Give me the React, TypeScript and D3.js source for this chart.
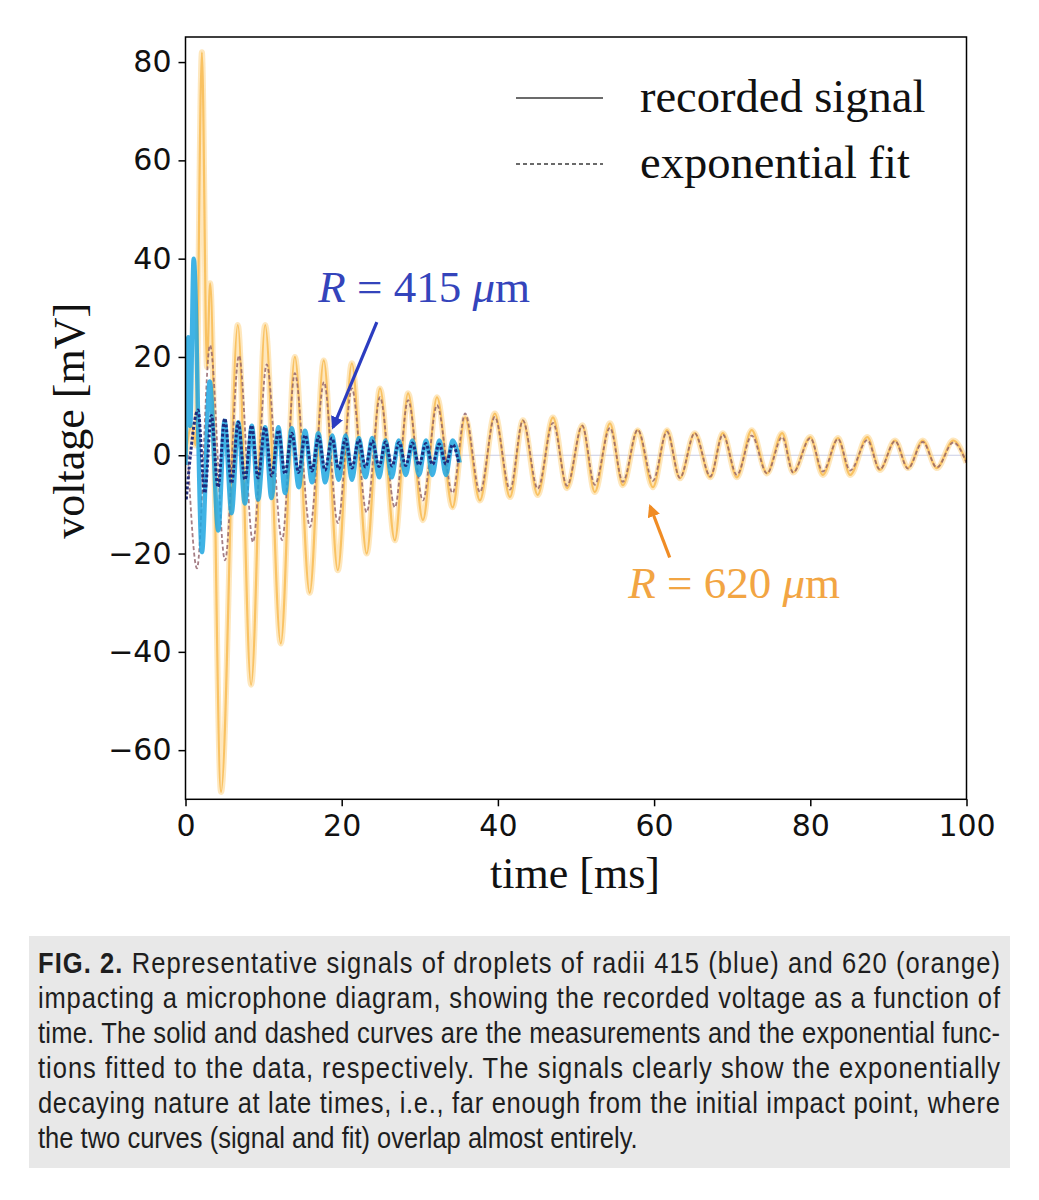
import { useEffect, useRef } from 'react';
import * as d3 from 'd3';

// extrema: [time ms, voltage mV]
const orangeSignal: [number, number][] = [
    [0, 0], [0.8, 6], [1.3, 2], [2.1, 82], [2.75, 18], [3.15, 35], [4.55, -68.5],
    [6.7, 26.5], [8.4, -46.7], [10.2, 26.5], [12.2, -38.3], [14.0, 20], [15.9, -28],
    [17.7, 19.3], [19.5, -23.4], [21.3, 18.7], [23.2, -20], [24.9, 13.6], [26.8, -17.3],
    [28.5, 12.6], [30.4, -13.2], [32.2, 11.8], [34.2, -10.6], [35.8, 7.7], [37.7, -9.2],
    [39.6, 8.5], [41.55, -8.5], [43.2, 7.1], [45.1, -8.1], [47.05, 7.7], [48.85, -6.7],
    [50.8, 6.1], [52.4, -7.5], [54.35, 6.5], [56.0, -6.1], [57.9, 5.1], [59.85, -6.5],
    [61.65, 5.1], [63.3, -4.7], [65.2, 4.5], [67.2, -4.5], [68.8, 4.5], [70.6, -4.5],
    [72.5, 5.1], [74.45, -3.7], [76.4, 4.5], [77.8, -3.5], [80.0, 3.7], [81.6, -4],
    [83.55, 3.5], [85.1, -4], [87.3, 3.7], [88.9, -3], [90.85, 3], [92.5, -2.6],
    [94.4, 3], [96.2, -2.6], [98.3, 3], [100, -1.5],
];

const orangeFit: [number, number][] = [
    [0.3, 0], [1.47, -23], [3.14, 22.4], [5.06, -21.4], [6.85, 20.3], [8.64, -17.7],
    [10.4, 18.5], [12.36, -17.3], [14.0, 16.7], [15.94, -14.6], [17.73, 14.9], [19.5, -13.8],
    [21.3, 13.6], [23.2, -11.6], [24.9, 11.8], [26.8, -10.6], [28.5, 11.2], [30.4, -9.2],
    [32.2, 10.2], [34.2, -7.7], [35.8, 8.5], [37.7, -7.5], [39.6, 7.8], [41.55, -7],
    [43.2, 7.1], [45.1, -6.8], [47.05, 6.6], [48.85, -6.2], [50.8, 6], [52.4, -6],
    [54.35, 5.6], [56.0, -5.4], [57.9, 5.2], [59.85, -5.2], [61.65, 4.8], [63.3, -4.6],
    [65.2, 4.5], [67.2, -4.3], [68.8, 4.2], [70.6, -4], [72.5, 4], [74.45, -3.7],
    [76.4, 3.7], [77.8, -3.5], [80.0, 3.5], [81.6, -3.3], [83.55, 3.3], [85.1, -3.1],
    [87.3, 3.1], [88.9, -2.9], [90.85, 2.9], [92.5, -2.7], [94.4, 2.7], [96.2, -2.5],
    [98.3, 2.6], [100, -1.5],
];

const blueSignal: [number, number][] = [
    [0, -2], [0.35, 24], [0.6, 6], [1.05, 40], [2.1, -19.7], [3.1, 15], [4.2, -15.3],
    [5.0, 7], [5.9, -11.8], [6.75, 6.7], [7.6, -9.8], [8.5, 6], [9.3, -9], [10.2, 5.7],
    [11.0, -8.7], [11.9, 5.7], [12.75, -7.7], [13.6, 5.5], [14.5, -6.5], [15.3, 5],
    [16.2, -5.5], [17.0, 4.5], [17.9, -5.5], [18.8, 4], [19.6, -5], [20.5, 4], [21.3, -5],
    [22.2, 3.5], [23.05, -4.5], [23.9, 3.5], [24.8, -4.5], [25.6, 3], [26.4, -4.5],
    [27.3, 3], [28.2, -4], [29.05, 3], [29.9, -4], [30.8, 3], [31.6, -4], [32.5, 3],
    [33.35, -4], [34.2, 3], [35.1, -1.5],
];

const blueFit: [number, number][] = [
    [0.1, -9], [0.5, -2], [1.6, 9.2], [2.46, -7.7], [3.32, 8.1], [4.16, -6.5], [5.03, 7.5],
    [5.89, -5.7], [6.75, 6.7], [7.62, -5], [8.46, 6.1], [9.28, -4.6], [10.18, 5.7],
    [11.04, -4.2], [11.9, 5.1], [12.74, -3.8], [13.61, 4.5], [14.47, -3.5], [15.33, 4.1],
    [16.2, -3.2], [17.04, 3.8], [17.86, -3], [18.76, 3.5], [19.62, -2.8], [20.47, 3.3],
    [21.32, -2.6], [22.19, 3.1], [23.05, -2.4], [23.9, 2.9], [24.78, -2.3], [25.62, 2.7],
    [26.44, -2.2], [27.34, 2.6], [28.2, -2.1], [29.05, 2.5], [29.9, -2], [30.77, 2.4],
    [31.63, -1.9], [32.48, 2.3], [33.35, -1.8], [34.2, 2.2], [35.0, -1.7],
];

const xTicks = [0, 20, 40, 60, 80, 100];
const yTicks = [-60, -40, -20, 0, 20, 40, 60, 80];

const legendLabels = ['recorded signal', 'exponential fit'];

const captionLines = [
    'Representative signals of droplets of radii 415 (blue) and 620 (orange)',
    'impacting a microphone diagram, showing the recorded voltage as a function of',
    'time. The solid and dashed curves are the measurements and the exponential func-',
    'tions fitted to the data, respectively. The signals clearly show the exponentially',
    'decaying nature at late times, i.e., far enough from the initial impact point, where',
    'the two curves (signal and fit) overlap almost entirely.',
];

export default function App() {
    const svgRef = useRef<SVGSVGElement>(null);

    useEffect(() => {
        if (!svgRef.current) return;
        document.body.style.margin = '0';

        const svg = d3.select(svgRef.current);
        svg.selectAll('*').remove();

        const left = 185.5, right = 966.5, top = 37, bottom = 799.3;
        const x = d3.scaleLinear().domain([0, 100]).range([left, right]);
        const y = d3.scaleLinear().domain([-70, 85.1]).range([bottom, top]);

        const defs = svg.append('defs');
        defs.append('clipPath').attr('id', 'plot-clip')
            .append('rect')
            .attr('x', left).attr('y', top)
            .attr('width', right - left).attr('height', bottom - top);

        const arrowHead = (id: string, color: string) => {
            defs.append('marker')
                .attr('id', id)
                .attr('viewBox', '0 0 10 10')
                .attr('refX', 8).attr('refY', 5)
                .attr('markerWidth', 4).attr('markerHeight', 4)
                .attr('orient', 'auto')
                .append('path')
                .attr('d', 'M0,0 L10,5 L0,10 z')
                .attr('fill', color);
        };
        arrowHead('arrow-blue', '#2b3cc0');
        arrowHead('arrow-orange', '#f08c24');

        const line = d3.line<[number, number]>()
            .x((d) => x(d[0]))
            .y((d) => y(d[1]))
            .curve(d3.curveMonotoneX);

        const plot = svg.append('g').attr('clip-path', 'url(#plot-clip)');

        // faint zero line
        plot.append('line')
            .attr('x1', x(0)).attr('x2', x(100))
            .attr('y1', y(0)).attr('y2', y(0))
            .attr('stroke', '#c9cde4')
            .attr('stroke-width', 1.2);

        // orange recorded signal: fuzzy band + core
        plot.append('path')
            .datum(orangeSignal)
            .attr('d', line)
            .attr('fill', 'none')
            .attr('stroke', '#fcc96c')
            .attr('stroke-opacity', 0.45)
            .attr('stroke-width', 6)
            .attr('stroke-linejoin', 'round');
        plot.append('path')
            .datum(orangeSignal)
            .attr('d', line)
            .attr('fill', 'none')
            .attr('stroke', '#f8bb52')
            .attr('stroke-opacity', 0.85)
            .attr('stroke-width', 2.2)
            .attr('stroke-linejoin', 'round');

        // orange fit
        plot.append('path')
            .datum(orangeFit)
            .attr('d', line)
            .attr('fill', 'none')
            .attr('stroke', '#8e5e66')
            .attr('stroke-opacity', 0.8)
            .attr('stroke-width', 1.8)
            .attr('stroke-dasharray', '4,2.5');

        // blue recorded signal
        plot.append('path')
            .datum(blueSignal)
            .attr('d', line)
            .attr('fill', 'none')
            .attr('stroke', '#1fa6e0')
            .attr('stroke-opacity', 0.85)
            .attr('stroke-width', 4.5)
            .attr('stroke-linejoin', 'round');

        // blue fit
        plot.append('path')
            .datum(blueFit)
            .attr('d', line)
            .attr('fill', 'none')
            .attr('stroke', '#1a2478')
            .attr('stroke-opacity', 0.95)
            .attr('stroke-width', 3)
            .attr('stroke-dasharray', '3,2');

        // frame
        svg.append('rect')
            .attr('x', left).attr('y', top)
            .attr('width', right - left).attr('height', bottom - top)
            .attr('fill', 'none')
            .attr('stroke', '#000')
            .attr('stroke-width', 1.5);

        // axes
        const yAxis = svg.append('g')
            .attr('transform', `translate(${left},0)`)
            .call(d3.axisLeft(y).tickValues(yTicks).tickSize(7).tickPadding(7));
        const xAxis = svg.append('g')
            .attr('transform', `translate(0,${bottom})`)
            .call(d3.axisBottom(x).tickValues(xTicks).tickSize(7).tickPadding(8));
        [xAxis, yAxis].forEach((ax) => {
            ax.attr('font-family', '"DejaVu Sans", sans-serif').attr('font-size', 30);
            ax.select('.domain').remove();
            ax.selectAll('line').attr('stroke', '#000').attr('stroke-width', 1.5);
            ax.selectAll('text').attr('fill', '#111');
        });

        // axis labels
        svg.append('text')
            .attr('x', (left + right) / 2 - 1)
            .attr('y', 888)
            .attr('text-anchor', 'middle')
            .attr('font-family', '"Liberation Serif", serif')
            .attr('font-size', 44)
            .attr('fill', '#111')
            .text('time [ms]');
        svg.append('text')
            .attr('transform', `translate(84,${y(7)}) rotate(-90)`)
            .attr('text-anchor', 'middle')
            .attr('font-family', '"Liberation Serif", serif')
            .attr('font-size', 44)
            .attr('fill', '#111')
            .text('voltage [mV]');

        // legend
        const legend = svg.append('g');
        legendLabels.forEach((label, i) => {
            const ly = 98 + i * 66;
            legend.append('line')
                .attr('x1', 516).attr('x2', 603)
                .attr('y1', ly).attr('y2', ly)
                .attr('stroke', '#3a3a3a')
                .attr('stroke-width', 1.5)
                .attr('stroke-dasharray', i === 1 ? '4,3' : null);
            legend.append('text')
                .attr('x', 640)
                .attr('y', ly + 14)
                .attr('font-family', '"Liberation Serif", serif')
                .attr('font-size', 46.5)
                .attr('fill', '#111')
                .text(label);
        });

        // annotations
        const annotate = (
            label: string, value: string, color: string, textColor: string, tx: number, ty: number,
            from: [number, number], to: [number, number], marker: string,
        ) => {
            svg.append('line')
                .attr('x1', x(from[0])).attr('y1', y(from[1]))
                .attr('x2', x(to[0])).attr('y2', y(to[1]))
                .attr('stroke', color)
                .attr('stroke-width', 3.2)
                .attr('marker-end', `url(#${marker})`);
            const t = svg.append('text')
                .attr('x', x(tx)).attr('y', y(ty))
                .attr('font-family', '"Liberation Serif", serif')
                .attr('font-size', 45)
                .attr('fill', textColor);
            t.append('tspan').attr('font-style', 'italic').text(label);
            t.append('tspan').text(' = ' + value + ' ');
            t.append('tspan').attr('font-style', 'italic').text('μ');
            t.append('tspan').text('m');
        };
        annotate('R', '415', '#2b3cc0', '#3444bb', 17.0, 31.1, [24.5, 27.1], [18.9, 5.7], 'arrow-blue');
        annotate('R', '620', '#f08c24', '#f2a543', 56.7, -29.0, [62.0, -20.8], [59.5, -10.4], 'arrow-orange');

        // caption
        svg.append('rect')
            .attr('x', 29).attr('y', 936)
            .attr('width', 981).attr('height', 232)
            .attr('fill', '#e8e8e8');

        const cap = svg.append('g');
        const lineNodes = captionLines.map((txt, i) => {
            const t = cap.append('text')
                .attr('x', 0)
                .attr('y', 973 + i * 35)
                .attr('font-family', '"Liberation Sans", Arial, sans-serif')
                .attr('font-size', 30)
                .attr('fill', '#1e1e1e');
            if (i === 0) {
                t.append('tspan').attr('font-weight', 'bold').text('FIG. 2.');
                t.append('tspan').text(' ' + txt);
            } else {
                t.text(txt);
            }
            return t;
        });
        const lastNode = lineNodes[lineNodes.length - 1].node() as SVGTextElement;
        const natural = lastNode.getComputedTextLength();
        const sx = natural > 0 ? 600 / natural : 0.8;
        cap.attr('transform', `translate(38,0) scale(${sx},1)`);
        lineNodes.slice(0, -1).forEach((t) => {
            t.attr('textLength', 962 / sx).attr('lengthAdjust', 'spacing');
        });
    }, []);

    return <svg ref={svgRef} width={1039} height={1200} style={{ display: 'block', background: '#fff' }} />;
}
